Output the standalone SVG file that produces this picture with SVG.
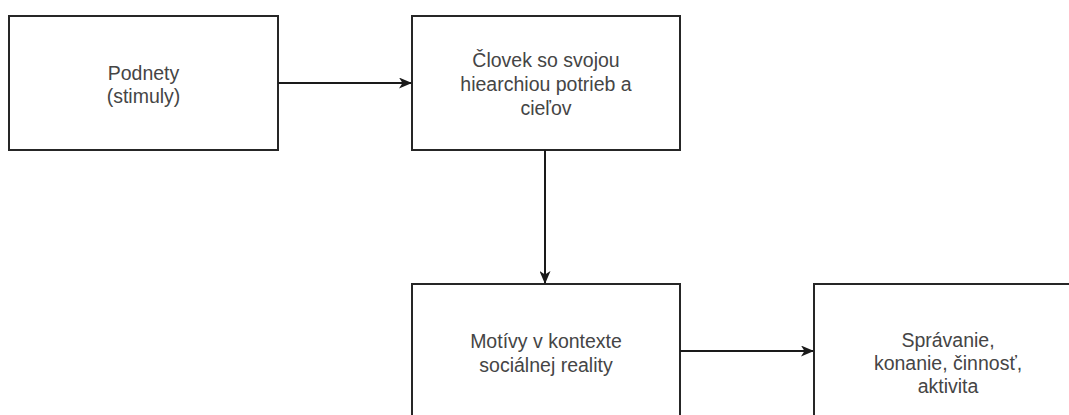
<svg xmlns="http://www.w3.org/2000/svg" width="1069" height="415" viewBox="0 0 1069 415">
  <style>
    .box { fill: #ffffff; stroke: #262626; stroke-width: 2; }
    .lbl { font-family: "Liberation Sans", Arial, sans-serif; font-size: 19.5px; fill: #454545; text-anchor: middle; }
    .edge { stroke: #1a1a1a; stroke-width: 2; fill: none; }
  </style>
  <defs>
    <marker id="arrow" viewBox="0 0 13 11" refX="12" refY="5.5" markerWidth="13" markerHeight="11" markerUnits="userSpaceOnUse" orient="auto">
      <path d="M0,0 L13,5.5 L0,11 L3.5,5.5 Z" fill="#1a1a1a"/>
    </marker>
  </defs>
  <rect width="1069" height="415" fill="#ffffff"/>

  <g id="node-podnety">
    <rect class="box" x="9" y="16" width="269" height="134"/>
    <text class="lbl" x="143.5" y="80">Podnety</text>
    <text class="lbl" x="143.5" y="103">(stimuly)</text>
  </g>

  <g id="node-clovek">
    <rect class="box" x="412" y="16" width="268" height="134"/>
    <text class="lbl" x="546" y="67">Človek so svojou</text>
    <text class="lbl" x="546" y="91">hiearchiou potrieb a</text>
    <text class="lbl" x="546" y="115">cieľov</text>
  </g>

  <g id="node-motivy">
    <rect class="box" x="412" y="284" width="268" height="140"/>
    <text class="lbl" x="546" y="348">Motívy v kontexte</text>
    <text class="lbl" x="546" y="372">sociálnej reality</text>
  </g>

  <g id="node-spravanie">
    <rect class="box" x="814" y="284" width="268" height="140"/>
    <text class="lbl" x="948" y="347">Správanie,</text>
    <text class="lbl" x="948" y="370">konanie, činnosť,</text>
    <text class="lbl" x="948" y="393">aktivita</text>
  </g>

  <g id="connectors">
    <line class="edge" x1="278" y1="83" x2="411" y2="83" marker-end="url(#arrow)"/>
    <line class="edge" x1="545" y1="150" x2="545" y2="283" marker-end="url(#arrow)"/>
    <line class="edge" x1="680" y1="351" x2="813" y2="351" marker-end="url(#arrow)"/>
  </g>
</svg>
